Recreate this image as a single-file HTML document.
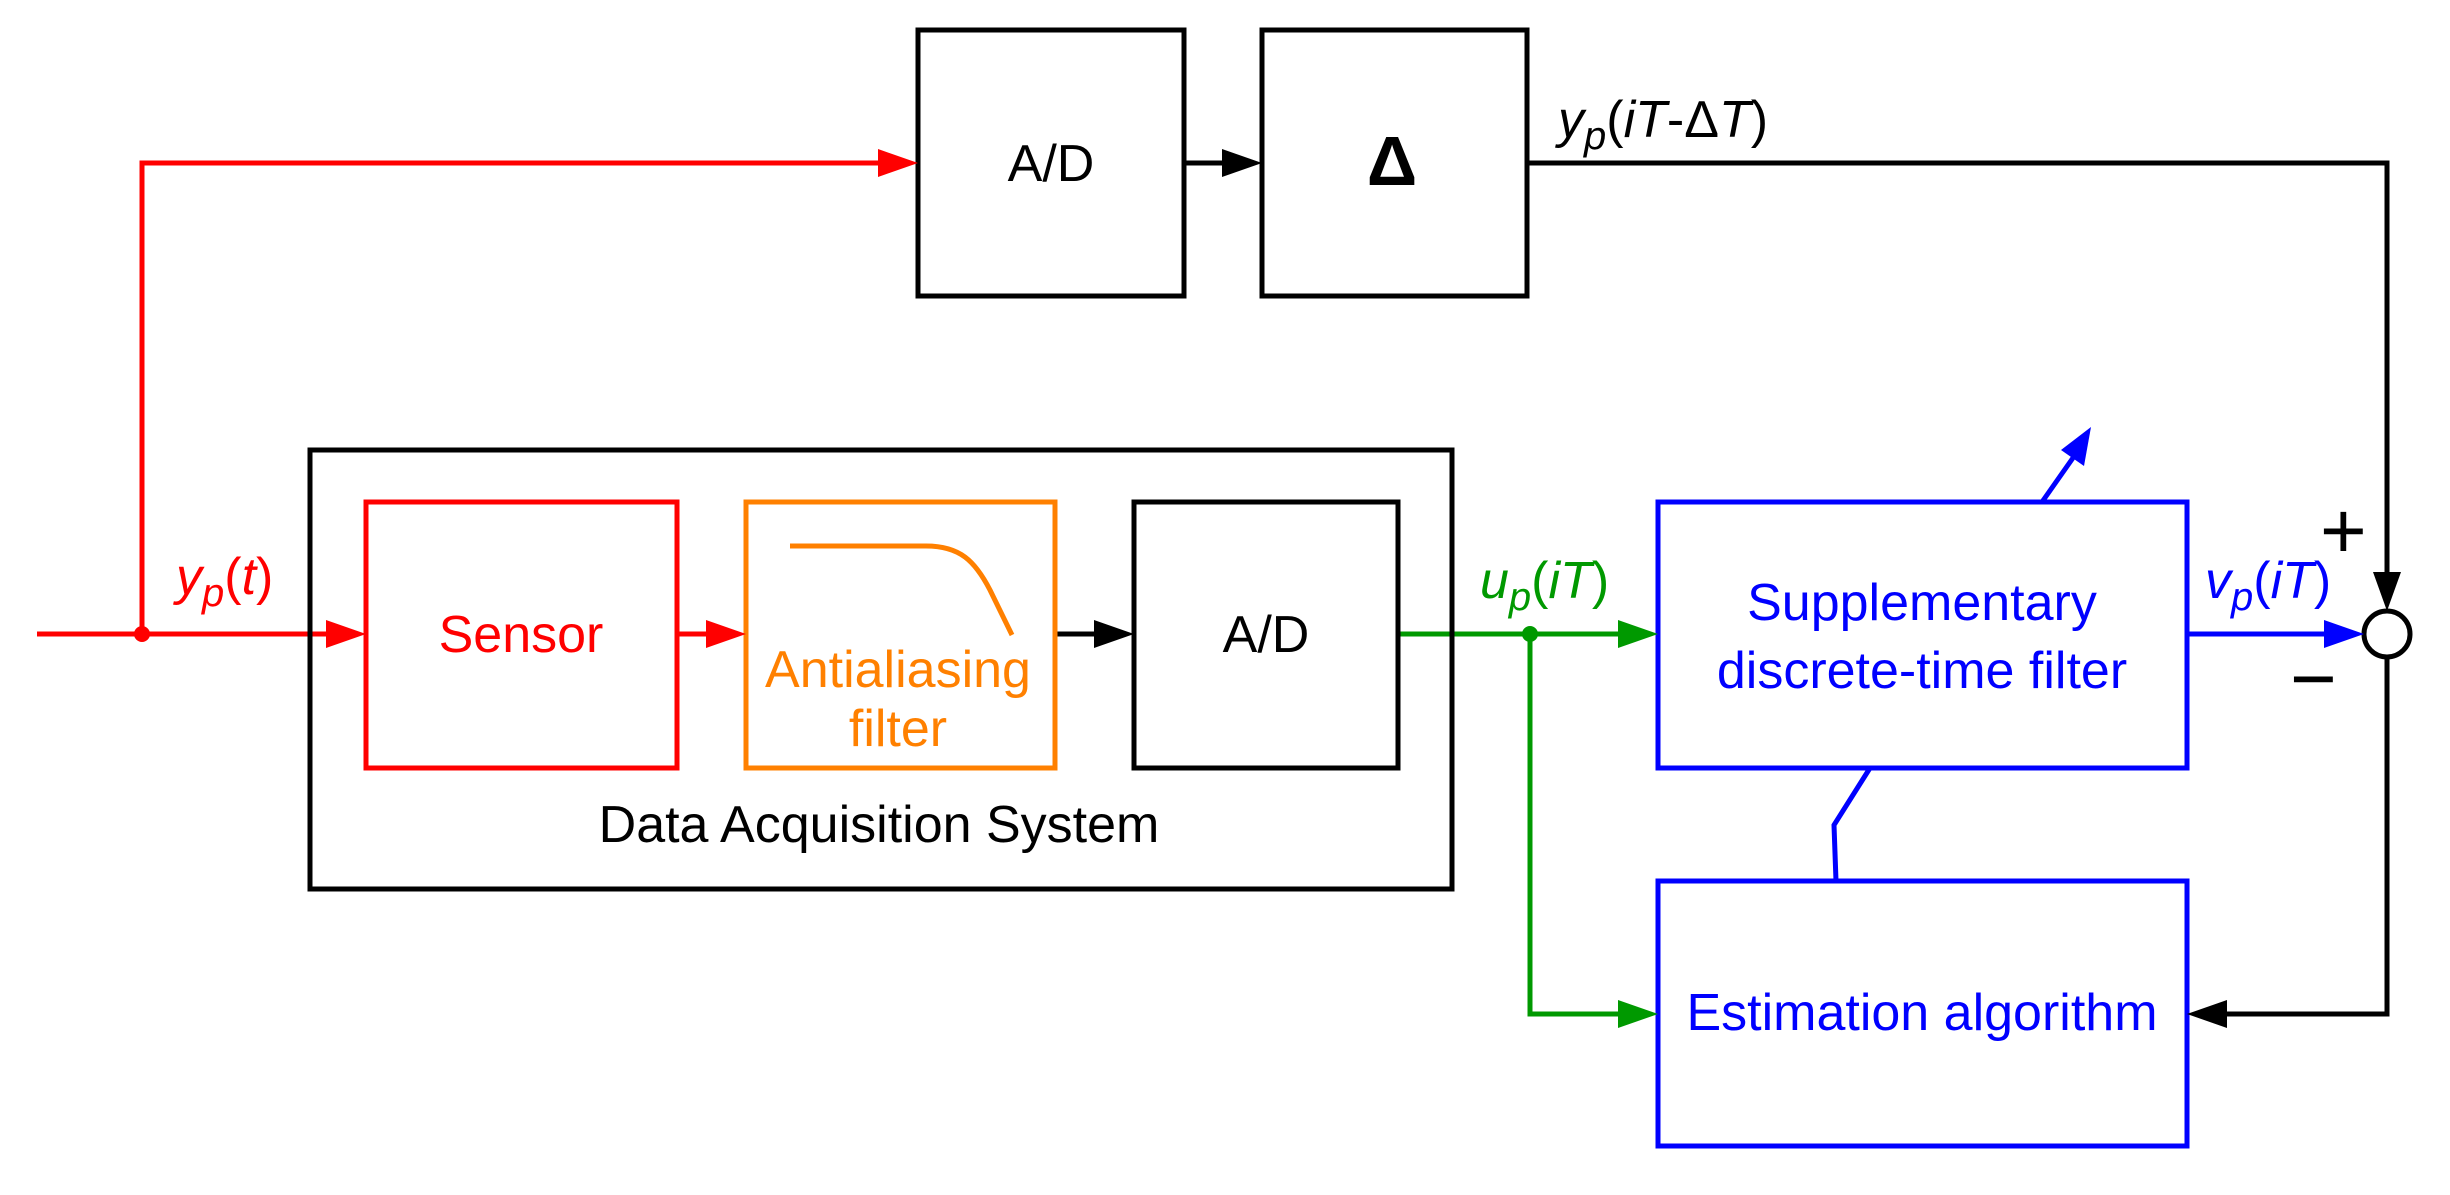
<!DOCTYPE html>
<html><head><meta charset="utf-8"><style>
html,body{margin:0;padding:0;background:#fff;}
svg{display:block;}
text{font-family:"Liberation Sans",Arial,sans-serif;}
</style></head><body>
<svg width="2450" height="1195" viewBox="0 0 2450 1195" xmlns="http://www.w3.org/2000/svg">
<g fill="none" stroke-width="5">
<path d="M37,634H330" stroke="#f00"/>
<path d="M142,634V163H880" stroke="#f00"/>
<path d="M677,634H710" stroke="#f00"/>
<path d="M1055,634H1098" stroke="#000"/>
<path d="M1184,163H1225" stroke="#000"/>
<path d="M1527,163H2387V592" stroke="#000"/>
<path d="M2387,657V1014H2225" stroke="#000"/>
<path d="M1398,634H1620" stroke="#090"/>
<path d="M1530,634V1014H1620" stroke="#090"/>
<path d="M2187,634H2330" stroke="#00f"/>
<path d="M1836,881L1834,825L1870,768" stroke="#00f"/>
<path d="M2042,502L2075,455" stroke="#00f"/>
<rect x="918" y="30" width="266" height="266" stroke="#000"/>
<rect x="1262" y="30" width="265" height="266" stroke="#000"/>
<rect x="310" y="450" width="1142" height="439" stroke="#000"/>
<rect x="366" y="502" width="311" height="266" stroke="#f00"/>
<rect x="746" y="502" width="309" height="266" stroke="#ff8000"/>
<rect x="1134" y="502" width="264" height="266" stroke="#000"/>
<rect x="1658" y="502" width="529" height="266" stroke="#00f"/>
<rect x="1658" y="881" width="529" height="265" stroke="#00f"/>
<circle cx="2387" cy="634" r="23" stroke="#000"/>
<path d="M790,546H926C960,546 975,561 990,590L1012,635" stroke="#ff8000"/>
</g>
<path d="M878,149L918,163L878,177z" fill="#f00"/>
<path d="M326,620L366,634L326,648z" fill="#f00"/>
<path d="M706,620L746,634L706,648z" fill="#f00"/>
<path d="M1094,620L1134,634L1094,648z" fill="#000"/>
<path d="M1222,149L1262,163L1222,177z" fill="#000"/>
<path d="M2373,572L2387,611L2401,572z" fill="#000"/>
<path d="M2227,1000L2187,1014L2227,1028z" fill="#000"/>
<path d="M1618,620L1658,634L1618,648z" fill="#090"/>
<path d="M1618,1000L1658,1014L1618,1028z" fill="#090"/>
<path d="M2324,620L2364,634L2324,648z" fill="#00f"/>
<path d="M2091,427L2084,466L2061,450z" fill="#00f"/>
<circle cx="142" cy="634" r="8" fill="#f00"/>
<circle cx="1530" cy="634" r="8" fill="#090"/>
<g font-size="52" text-anchor="middle">
<text x="1051" y="181">A/D</text>
<text x="1392" y="185" font-weight="bold" font-size="70">Δ</text>
<text x="521" y="652" fill="#f00">Sensor</text>
<text x="898" y="687" fill="#ff8000">Antialiasing</text>
<text x="898" y="746" fill="#ff8000">filter</text>
<text x="1266" y="652">A/D</text>
<text x="879" y="842">Data Acquisition System</text>
<text x="1922" y="620" fill="#00f">Supplementary</text>
<text x="1922" y="688" fill="#00f">discrete-time filter</text>
<text x="1922" y="1030" fill="#00f">Estimation algorithm</text>
</g>
<g font-size="52">
<text x="176" y="594" fill="#f00"><tspan font-style="italic">y</tspan><tspan font-style="italic" font-size="40" dy="12">p</tspan><tspan dy="-12">(</tspan><tspan font-style="italic">t</tspan>)</text>
<text x="1558" y="137"><tspan font-style="italic">y</tspan><tspan font-style="italic" font-size="40" dy="12">p</tspan><tspan dy="-12">(</tspan><tspan font-style="italic">iT</tspan>-Δ<tspan font-style="italic">T</tspan>)</text>
<text x="1480" y="598" fill="#090"><tspan font-style="italic">u</tspan><tspan font-style="italic" font-size="40" dy="12">p</tspan><tspan dy="-12">(</tspan><tspan font-style="italic">iT</tspan>)</text>
<text x="2205" y="598" fill="#00f"><tspan font-style="italic">v</tspan><tspan font-style="italic" font-size="40" dy="12">p</tspan><tspan dy="-12">(</tspan><tspan font-style="italic">iT</tspan>)</text>
<text x="2320" y="558" font-size="80">+</text>
<text x="2290" y="706" font-size="80">−</text>
</g>
</svg>
</body></html>
